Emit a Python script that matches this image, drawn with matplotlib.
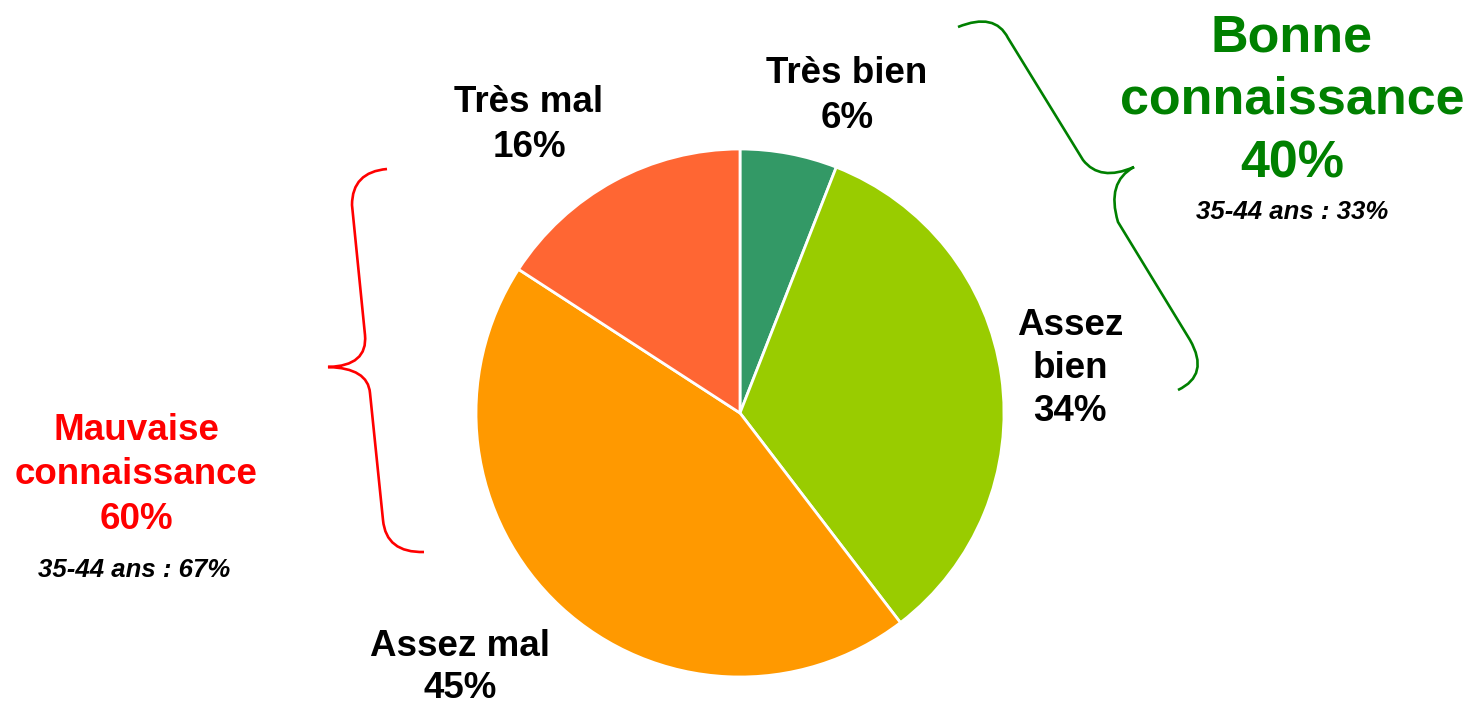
import matplotlib.pyplot as plt
from matplotlib.path import Path
from matplotlib.patches import PathPatch

plt.rcParams['font.family'] = ['Liberation Sans', 'DejaVu Sans']

# Data
categories = ['Très bien', 'Assez bien', 'Assez mal', 'Très mal']
values = [6, 34, 45, 16]
colors = ['#339966', '#99CC00', '#FF9900', '#FF6633']

good_label = ['Bonne', 'connaissance', '40%']
good_sub = '35-44 ans : 33%'
bad_label = ['Mauvaise', 'connaissance', '60%']
bad_sub = '35-44 ans : 67%'

W, H = 1477, 704

fig = plt.figure(figsize=(W / 100, H / 100), dpi=100)
ax = fig.add_axes([0, 0, 1, 1])


def py(y):
    # pixel row (from top) -> data y (from bottom)
    return H - y


ax.pie(values, colors=colors, startangle=90, counterclock=False,
       center=(740, py(413)), radius=264,
       wedgeprops=dict(edgecolor='white', linewidth=2))
ax.set_xlim(0, W)
ax.set_ylim(0, H)
ax.set_aspect('equal')
ax.axis('off')


def lines(x, baselines, texts, **kw):
    for b, t in zip(baselines, texts):
        ax.text(x, py(b), t, ha='center', va='baseline', **kw)


# slice labels: (x centre, baselines)
label_pos = {
    'Très bien': (847, [83, 128], ['Très bien']),
    'Assez bien': (1070, [335, 378, 421], ['Assez', 'bien']),
    'Assez mal': (460, [656, 698], ['Assez mal']),
    'Très mal': (529, [112, 157], ['Très mal']),
}
for cat, v in zip(categories, values):
    x, bl, words = label_pos[cat]
    lines(x, bl, words + [f'{v}%'], fontsize=26.5, fontweight='bold', color='black')

# group labels
lines(1292, [51, 114, 178], good_label, fontsize=37.5, fontweight='bold', color='#008000')
lines(1292, [219], [good_sub], fontsize=18.5, fontweight='bold', style='italic', color='black')
lines(136, [440, 484, 529], bad_label, fontsize=26.5, fontweight='bold', color='#FF0000')
lines(134, [577], [bad_sub], fontsize=18.5, fontweight='bold', style='italic', color='black')

# curly braces
M, C, L = Path.MOVETO, Path.CURVE3, Path.LINETO
green_pts = [(958, 27), (995, 12), (1008, 38), (1083, 160), (1100, 182), (1134, 167),
             (1106, 182), (1118, 222), (1190, 340), (1210, 375), (1178, 390)]
green_codes = [M, C, C, L, C, C, C, C, L, C, C]
red_pts = [(387, 169), (352, 172), (352, 205), (365, 335), (368, 366), (328, 367),
           (368, 368), (370, 393), (383, 520), (386, 553), (424, 552)]
red_codes = [M, C, C, L, C, C, C, C, L, C, C]

for pts, codes, col in [(green_pts, green_codes, '#008000'), (red_pts, red_codes, '#FF0000')]:
    p = Path([(x, py(y)) for x, y in pts], codes)
    ax.add_patch(PathPatch(p, facecolor='none', edgecolor=col, linewidth=1.9))

fig.savefig('out.png', dpi=100, facecolor='white')
